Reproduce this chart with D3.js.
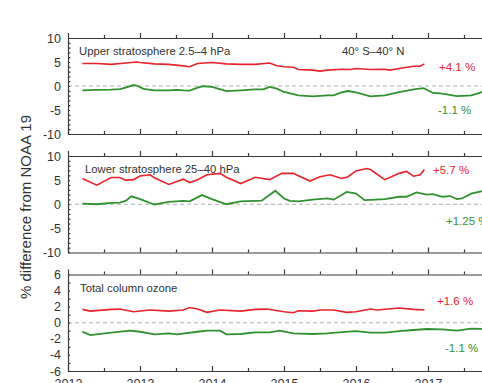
<!DOCTYPE html>
<html>
<head>
<meta charset="utf-8">
<script src="https://cdn.jsdelivr.net/npm/d3@7"></script>
<style>
  body { margin: 0; background: #fff; }
  svg { display: block; font-family: "Liberation Sans", Arial, sans-serif; }
  .axis path, .axis line { stroke: #3a3a3a; stroke-width: 1.2; }
  .axis text { fill: #333; font-size: 12.5px; }
</style>
</head>
<body>
<div id="chart"></div>
<script>
// year ticks along the bottom
var years = [2012, 2013, 2014, 2015, 2016, 2017, 2018];

// [year, % difference]
var upperRed = [[2012.20,4.7],[2012.40,4.7],[2012.60,4.5],[2012.80,4.8],[2012.95,5.0],[2013.00,4.9],[2013.20,4.6],[2013.40,4.5],[2013.60,4.2],[2013.69,4.0],[2013.80,4.7],[2014.00,4.9],[2014.20,4.6],[2014.40,4.5],[2014.60,4.5],[2014.80,4.8],[2014.90,4.2],[2015.00,4.0],[2015.13,3.9],[2015.20,3.45],[2015.40,3.3],[2015.50,3.1],[2015.60,3.3],[2015.80,3.5],[2015.92,3.45],[2016.00,3.65],[2016.20,3.45],[2016.40,3.5],[2016.47,3.3],[2016.60,3.65],[2016.80,4.1],[2016.89,4.1],[2016.95,4.6]];
var upperGreen = [[2012.20,-0.9],[2012.40,-0.8],[2012.60,-0.75],[2012.72,-0.65],[2012.80,-0.35],[2012.91,0.2],[2012.95,0.1],[2013.05,-0.6],[2013.20,-0.9],[2013.40,-0.9],[2013.51,-0.8],[2013.60,-0.9],[2013.69,-0.95],[2013.80,-0.35],[2013.88,-0.05],[2014.00,-0.2],[2014.20,-1.05],[2014.40,-0.9],[2014.60,-0.7],[2014.71,-0.7],[2014.80,-0.2],[2014.90,-0.55],[2015.00,-1.25],[2015.20,-1.95],[2015.40,-2.15],[2015.60,-1.95],[2015.69,-1.95],[2015.80,-1.35],[2015.89,-1.05],[2016.00,-1.35],[2016.20,-2.15],[2016.40,-1.95],[2016.60,-1.3],[2016.80,-0.7],[2016.94,-0.45],[2017.07,-1.45],[2017.20,-1.6],[2017.40,-2.1],[2017.60,-1.95],[2017.72,-1.45],[2017.80,-0.9],[2017.90,-0.5]];
var lowerRed = [[2012.20,5.35],[2012.40,3.95],[2012.60,5.55],[2012.72,5.55],[2012.80,5.0],[2012.91,5.1],[2013.00,5.85],[2013.14,6.1],[2013.20,5.5],[2013.40,4.1],[2013.60,5.2],[2013.69,4.5],[2013.80,5.1],[2013.93,6.1],[2014.11,6.4],[2014.20,5.6],[2014.40,4.3],[2014.60,5.6],[2014.80,5.1],[2014.97,6.4],[2015.13,6.4],[2015.20,5.9],[2015.36,4.8],[2015.50,5.7],[2015.64,6.1],[2015.80,5.35],[2015.89,5.7],[2016.00,6.9],[2016.15,7.4],[2016.20,7.2],[2016.40,5.1],[2016.60,6.4],[2016.70,6.8],[2016.80,5.8],[2016.89,6.1],[2016.95,7.2]];
var lowerGreen = [[2012.20,0.15],[2012.40,0.0],[2012.60,0.3],[2012.72,0.35],[2012.80,0.7],[2012.88,1.65],[2013.00,1.05],[2013.20,-0.05],[2013.40,0.5],[2013.60,0.7],[2013.69,0.6],[2013.86,1.9],[2014.00,1.05],[2014.20,0.0],[2014.40,0.6],[2014.60,0.7],[2014.69,0.75],[2014.88,2.8],[2015.00,1.2],[2015.08,0.7],[2015.20,0.6],[2015.40,0.95],[2015.60,1.2],[2015.69,0.95],[2015.87,2.55],[2016.00,2.2],[2016.12,0.85],[2016.20,0.9],[2016.40,1.05],[2016.60,1.55],[2016.70,1.55],[2016.84,2.45],[2016.98,2.0],[2017.07,2.1],[2017.20,1.55],[2017.31,1.7],[2017.40,1.05],[2017.47,1.2],[2017.60,2.2],[2017.72,2.6],[2017.80,2.8],[2017.90,3.0]];
var totalRed = [[2012.20,1.66],[2012.31,1.45],[2012.60,1.66],[2012.72,1.7],[2012.91,1.37],[2013.14,1.58],[2013.40,1.45],[2013.60,1.58],[2013.69,1.9],[2013.80,1.7],[2013.93,1.29],[2014.11,1.58],[2014.40,1.45],[2014.60,1.66],[2014.76,1.7],[2015.00,1.37],[2015.13,1.24],[2015.20,1.49],[2015.40,1.45],[2015.50,1.58],[2015.69,1.58],[2015.87,1.29],[2016.00,1.37],[2016.20,1.7],[2016.29,1.58],[2016.60,1.83],[2016.80,1.66],[2016.95,1.58]];
var totalGreen = [[2012.20,-1.11],[2012.31,-1.53],[2012.60,-1.24],[2012.86,-0.99],[2013.00,-1.12],[2013.20,-1.44],[2013.40,-1.32],[2013.51,-1.44],[2013.80,-1.12],[2013.93,-0.99],[2014.11,-0.99],[2014.20,-1.44],[2014.40,-1.4],[2014.60,-1.2],[2014.80,-1.2],[2014.94,-0.99],[2015.13,-1.32],[2015.40,-1.4],[2015.60,-1.32],[2015.80,-1.16],[2016.00,-1.03],[2016.20,-1.24],[2016.40,-1.24],[2016.60,-1.03],[2016.80,-0.9],[2016.98,-0.78],[2017.20,-0.82],[2017.40,-0.99],[2017.60,-0.74],[2017.80,-0.78],[2017.95,-0.78]];

var panels = [
  {title: "Upper stratosphere 2.5\u20134 hPa", region: "40\u00b0 S\u201340\u00b0 N", dom: [-10, 10], major: [-10, -5, 0, 5, 10],
   red: upperRed, green: upperGreen, redLabel: "+4.1 %", greenLabel: "-1.1 %", top: 38, bottom: 134,
   redLabelY: 71, greenLabelY: 114, titleX: 79, redX: 439, greenX: 438},
  {title: "Lower stratosphere 25\u201340 hPa", dom: [-10, 10], major: [-10, -5, 0, 5, 10],
   red: lowerRed, green: lowerGreen, redLabel: "+5.7 %", greenLabel: "+1.25 %", top: 156, bottom: 252.5,
   redLabelY: 174, greenLabelY: 225, titleX: 85, redX: 433, greenX: 446},
  {title: "Total column ozone", dom: [-6, 6], major: [-6, -4, -2, 0, 2, 4, 6],
   red: totalRed, green: totalGreen, redLabel: "+1.6 %", greenLabel: "-1.1 %", top: 274.5, bottom: 371,
   redLabelY: 305, greenLabelY: 352, titleX: 80, redX: 437, greenX: 445}
];

var width = 482, height = 383, left = 68;
var red = "#e8232b", green = "#2f922f";

var svg = d3.select("#chart").append("svg")
    .attr("width", width)
    .attr("height", height);

var x = d3.scaleLinear().domain([2012, 2018]).range([left, left + 6 * 72]);
var halfYears = d3.range(2012.5, 2018, 1);

panels.forEach(function(p) {
    var y = d3.scaleLinear().domain(p.dom).range([p.bottom, p.top]);
    var minor = d3.range(p.dom[0], p.dom[1] + 1).filter(function(v) { return p.major.indexOf(v) < 0; });

    // zero line
    svg.append("line")
        .attr("x1", left).attr("x2", width)
        .attr("y1", y(0)).attr("y2", y(0))
        .attr("stroke", "#b0b0b0").attr("stroke-width", 1)
        .attr("stroke-dasharray", "4,3");

    var line = d3.line()
        .x(function(d) { return x(d[0]); })
        .y(function(d) { return y(d[1]); });

    svg.append("path").datum(p.red)
        .attr("d", line).attr("fill", "none")
        .attr("stroke", red).attr("stroke-width", 1.6);
    svg.append("path").datum(p.green)
        .attr("d", line).attr("fill", "none")
        .attr("stroke", green).attr("stroke-width", 1.8);

    // x ticks on top and bottom edges of each panel, all pointing up
    [p.top, p.bottom].forEach(function(yy) {
        svg.append("g").attr("class", "axis")
            .attr("transform", "translate(0," + yy + ")")
            .call(d3.axisTop(x).tickValues(years).tickSize(5).tickSizeOuter(0).tickFormat(""));
        svg.append("g").attr("class", "axis")
            .attr("transform", "translate(0," + yy + ")")
            .call(d3.axisTop(x).tickValues(halfYears).tickSize(3).tickSizeOuter(0).tickFormat(""))
            .select(".domain").remove();
    });

    // y axis
    var ya = svg.append("g").attr("class", "axis")
        .attr("transform", "translate(" + left + ",0)")
        .call(d3.axisLeft(y).tickValues(p.major).tickSize(5).tickSizeOuter(0)
            .tickFormat(function(d) { return String(d); }));
    ya.selectAll(".tick line").attr("x2", 2);
    ya.selectAll(".tick text").attr("x", -7);
    svg.append("g").attr("class", "axis")
        .attr("transform", "translate(" + left + ",0)")
        .call(d3.axisRight(y).tickValues(minor).tickSize(2.5).tickFormat(""))
        .select(".domain").remove();

    svg.append("text")
        .attr("x", p.titleX).attr("y", p.top + 17)
        .attr("font-size", 11.3).attr("fill", "#333")
        .text(p.title);
    if (p.region) {
        svg.append("text")
            .attr("x", 342).attr("y", p.top + 17)
            .attr("font-size", 11.3).attr("fill", "#333")
            .text(p.region);
    }
    svg.append("text")
        .attr("x", p.redX).attr("y", p.redLabelY)
        .attr("font-size", 11.5).attr("fill", red)
        .text(p.redLabel);
    svg.append("text")
        .attr("x", p.greenX).attr("y", p.greenLabelY)
        .attr("font-size", 11.5).attr("fill", green)
        .text(p.greenLabel);
});

// year labels under the last panel (cut off by the frame edge)
svg.append("g").attr("class", "axis")
    .attr("transform", "translate(0,371)")
    .call(d3.axisBottom(x).tickValues(years).tickSize(0).tickPadding(8).tickFormat(d3.format("d")))
    .select(".domain").remove();

svg.append("text")
    .attr("transform", "translate(31,207) rotate(-90)")
    .attr("text-anchor", "middle")
    .attr("font-size", 15).attr("fill", "#333")
    .text("% difference from NOAA 19");
</script>
</body>
</html>
